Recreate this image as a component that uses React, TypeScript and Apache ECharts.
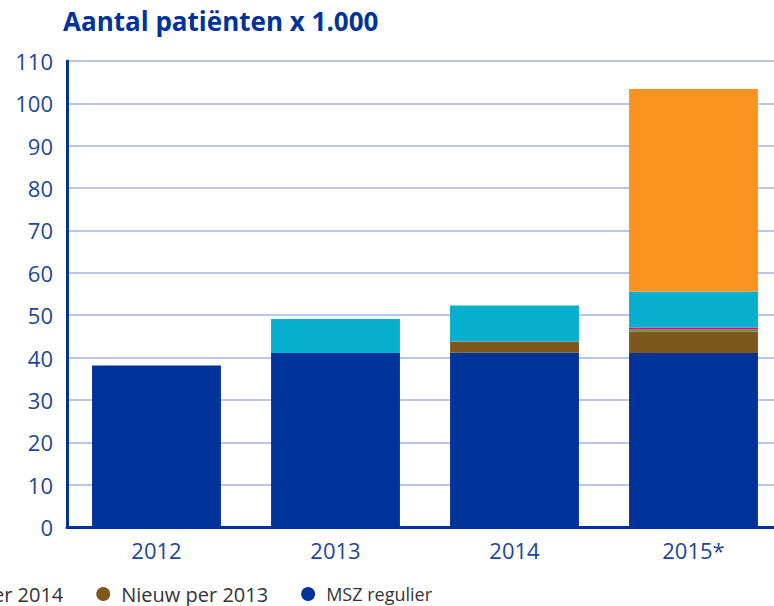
import React, { useEffect, useRef } from "react";
import * as echarts from "echarts";

const categories = ["2012", "2013", "2014", "2015*"];
const mszRegulier = [38.1, 41.1, 41.2, 41.1];
const nieuw2013 = [0, 0, 2.6, 5.0];
const nieuw2014 = [0, 0, 0, 0.5];
const magentaSerie = [0, 0, 0, 0.5];
const cyaanSerie = [0, 8.0, 8.5, 8.5];
const oranjeSerie = [0, 0, 0, 47.8];

const names = {
  orange: "Nieuw per 2015",
  cyan: "Overig",
  magenta: "Nieuw per 2015 (overig)",
  green: "Nieuw per 2014",
  brown: "Nieuw per 2013",
  blue: "MSZ regulier",
};

export default function App() {
  const ref = useRef<HTMLDivElement>(null);
  useEffect(() => {
    if (!ref.current) return;
    const chart = echarts.init(ref.current, null, { renderer: "svg" });
    const font = "'Open Sans', 'Noto Sans', sans-serif";
    const mk = (name: string, data: number[], color: string) => ({
      name,
      type: "bar",
      stack: "total",
      data: data.map((v) => (v === 0 ? null : v)),
      barWidth: "72%",
      itemStyle: { color },
      emphasis: { disabled: true },
    });
    const wide = { fontSize: 20 };
    chart.setOption({
      animation: false,
      title: {
        text: "Aantal patiënten x 1.000",
        left: 58,
        top: 3,
        textStyle: { color: "#003399", fontSize: 26, fontWeight: "bold", fontFamily: font },
      },
      legend: {
        right: 342,
        bottom: 2,
        width: 2000,
        padding: 0,
        icon: "circle",
        symbolKeepAspect: true,
        itemWidth: 26,
        itemHeight: 14,
        itemGap: 33,
        textStyle: { color: "#333333", fontSize: 18, fontFamily: font },
        data: [
          { name: names.orange, textStyle: wide },
          { name: names.cyan, textStyle: wide },
          { name: names.magenta, textStyle: wide },
          { name: names.green, textStyle: wide },
          { name: names.brown, textStyle: wide },
          { name: names.blue },
        ],
      },
      grid: { left: 67, width: 716, top: 61, bottom: 79, containLabel: false, outerBoundsMode: "none" },
      xAxis: {
        type: "category",
        data: categories,
        axisLine: { show: true, lineStyle: { color: "#003399", width: 3 } },
        axisTick: { show: false },
        axisLabel: { color: "#1d4797", fontSize: 22, fontFamily: font, margin: 12 },
      },
      yAxis: {
        type: "value",
        min: 0,
        max: 110,
        interval: 10,
        axisLine: { show: true, lineStyle: { color: "#003399", width: 3 } },
        axisTick: { show: false },
        splitLine: { lineStyle: { color: "#a3b3dc", width: 1.5 } },
        axisLabel: { color: "#1d4797", fontSize: 22, fontFamily: font, margin: 14 },
      },
      series: [
        mk(names.blue, mszRegulier, "#003399"),
        mk(names.brown, nieuw2013, "#7f571e"),
        mk(names.green, nieuw2014, "#5a9a2a"),
        mk(names.magenta, magentaSerie, "#e5007e"),
        mk(names.cyan, cyaanSerie, "#07afcf"),
        mk(names.orange, oranjeSerie, "#f7931e"),
      ],
    });
    return () => chart.dispose();
  }, []);
  return <div ref={ref} style={{ width: 774, height: 606, position: "absolute", left: 0, top: 0 }} />;
}
